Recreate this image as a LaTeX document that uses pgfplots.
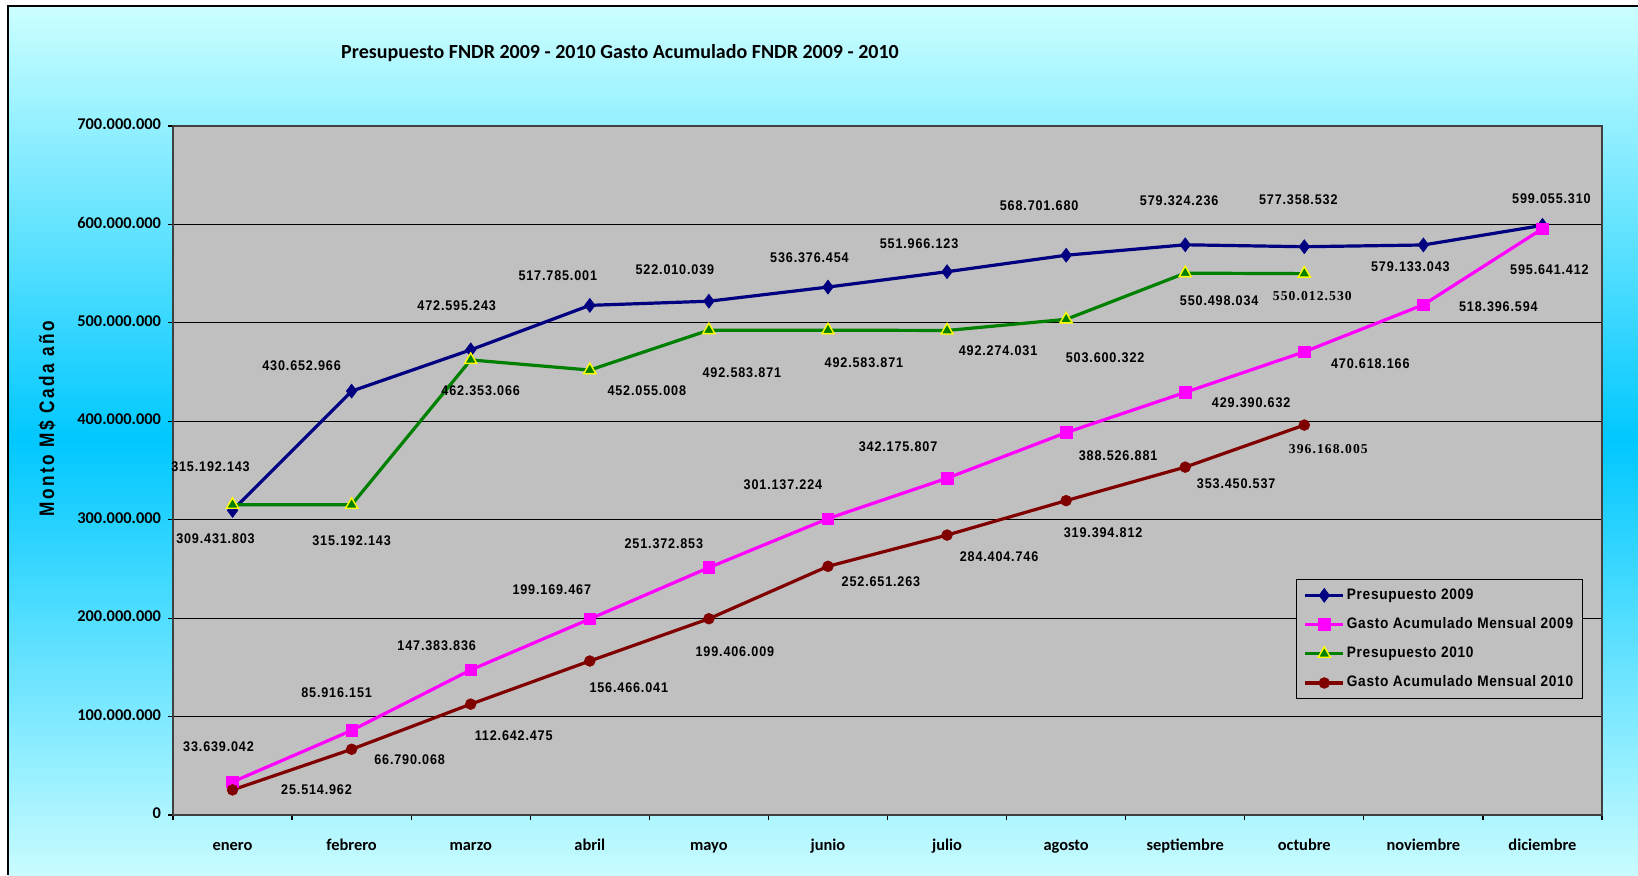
\documentclass[border=0pt]{standalone}
\usepackage{fontspec}
\usepackage{pgfplots}
\usepackage{pgfplotstable}
\pgfplotsset{compat=1.18}
\setmainfont{Liberation Sans}
\newfontfamily\calfont{Carlito}
\newfontfamily\lblfont[LetterSpace=6,FakeStretch=0.9]{Liberation Sans}
\newfontfamily\lblserif[LetterSpace=8]{Liberation Serif}
\newfontfamily\legfont[LetterSpace=4.5,FakeStretch=0.9]{Liberation Sans}
\newfontfamily\ylabfont[LetterSpace=12,FakeStretch=0.82]{Liberation Sans}
\definecolor{navyc}{HTML}{000080}
\definecolor{magc}{HTML}{FF00FF}
\definecolor{greenc}{HTML}{008000}
\definecolor{redc}{HTML}{800000}
\definecolor{yelc}{HTML}{FFFF00}
\definecolor{plotgray}{HTML}{C0C0C0}
\definecolor{bgl}{HTML}{CCFFFF}
\definecolor{bgm}{HTML}{00C8FF}
\definecolor{bgl2}{HTML}{C8FCFF}

\pgfplotstableread{
x p09 g09
0 309431803 33639042
1 430652966 85916151
2 472595243 147383836
3 517785001 199169467
4 522010039 251372853
5 536376454 301137224
6 551966123 342175807
7 568701680 388526881
8 579324236 429390632
9 577358532 470618166
10 579133043 518396594
11 599055310 595641412
}\tabA
\pgfplotstableread{
x p10 g10
0 315192143 25514962
1 315192143 66790068
2 462353066 112642475
3 452055008 156466041
4 492583871 199406009
5 492583871 252651263
6 492274031 284404746
7 503600322 319394812
8 550498034 353450537
9 550012530 396168005
}\tabB

\newcommand{\lbl}[5]{\node[font=\lblfont\bfseries\fontsize{7}{8}\selectfont, inner sep=0pt, xshift={0.5pt*(#3)}, yshift={-0.5pt*(#4)}] at (axis cs:#1,#2) {#5};}
\newcommand{\lbs}[5]{\node[font=\lblserif\bfseries\fontsize{6.8}{8}\selectfont, inner sep=0pt, xshift={0.5pt*(#3)}, yshift={-0.5pt*(#4)}] at (axis cs:#1,#2) {#5};}

\begin{document}
\begin{tikzpicture}
\fill[white] (0pt,0pt) rectangle (819pt,-437.5pt);
\shade[top color=bgl, bottom color=bgl2, middle color=bgm] (4pt,-3pt) rectangle (819pt,-437.5pt);
\draw[black, line width=0.7pt] (4pt,-437.5pt) -- (4pt,-3pt) -- (819pt,-3pt);
\node[font=\calfont\bfseries\fontsize{10}{12}\selectfont, inner sep=0pt] at (310pt,-26.5pt) {Presupuesto FNDR 2009 - 2010 Gasto Acumulado FNDR 2009 - 2010};
\node[font=\ylabfont\bfseries\fontsize{10.5}{12}\selectfont, inner sep=0pt, rotate=90] at (23.5pt,-209.5pt) {Monto M\$ Cada año};
\begin{axis}[
  at={(86.5pt,-63pt)}, anchor=north west,
  width=714.5pt, height=344.5pt, scale only axis,
  xmin=-0.5, xmax=11.5, ymin=0, ymax=700000000,
  xtick={-0.5,0.5,1.5,2.5,3.5,4.5,5.5,6.5,7.5,8.5,9.5,10.5,11.5},
  x tick label as interval,
  xticklabels={enero,febrero,marzo,abril,mayo,junio,julio,agosto,septiembre,octubre,noviembre,diciembre},
  ytick={0,100000000,200000000,300000000,400000000,500000000,600000000,700000000},
  yticklabels={0,100.000.000,200.000.000,300.000.000,400.000.000,500.000.000,600.000.000,700.000.000},
  scaled y ticks=false,
  tick align=outside, major tick length=2.5pt,
  xtick pos=bottom, ytick pos=left,
  tick style={black, line width=0.6pt},
  ymajorgrids, grid style={black, line width=0.5pt},
  axis line style={draw=black!75, line width=0.7pt},
  axis background/.style={fill=plotgray},
  ticklabel style={font=\calfont\bfseries\fontsize{8.2}{9}\selectfont},
  typeset ticklabels with strut,
  xticklabel style={yshift=-5.5pt},
  yticklabel style={xshift=0pt},
  clip=false,
  legend image code/.code={\draw[mark repeat=2,mark phase=2,#1] plot coordinates {(0pt,0pt) (9.5pt,0pt) (19pt,0pt)};},
  legend cell align=left,
  legend style={at={(rel axis cs:0.786,0.3425)}, anchor=north west, draw=black, fill=plotgray, line width=0.5pt,
    font=\legfont\bfseries\fontsize{7.6}{9}\selectfont, inner xsep=3.5pt, inner ysep=3.5pt, row sep=5.7pt,
    nodes={inner sep=1pt}},
]
\addplot[color=navyc, line width=1.6pt, mark=diamond*, mark size=3.5pt, mark options={solid, line width=0.3pt}] table[x=x, y=p09] {\tabA};
\addlegendentry{Presupuesto 2009}
\addplot[color=magc, line width=1.6pt, mark=square*, mark size=2.9pt, mark options={solid, line width=0.3pt}] table[x=x, y=g09] {\tabA};
\addlegendentry{Gasto Acumulado Mensual 2009}
\addplot[color=greenc, line width=1.6pt, mark=triangle*, mark size=3.5pt, mark options={solid, fill=greenc, draw=yelc, line width=0.7pt}] table[x=x, y=p10] {\tabB};
\addlegendentry{Presupuesto 2010}
\addplot[color=redc, line width=1.6pt, mark=*, mark size=2.7pt, mark options={solid, line width=0.3pt}] table[x=x, y=g10] {\tabB};
\addlegendentry{Gasto Acumulado Mensual 2010}
% Presupuesto 2009 labels
\lbl{0}{309431803}{-17}{28}{309.431.803}
\lbl{1}{430652966}{-50}{-25}{430.652.966}
\lbl{2}{472595243}{-14}{-44}{472.595.243}
\lbl{3}{517785001}{-32}{-30}{517.785.001}
\lbl{4}{522010039}{-34}{-32}{522.010.039}
\lbl{5}{536376454}{-18.5}{-29}{536.376.454}
\lbl{6}{551966123}{-28}{-28}{551.966.123}
\lbl{7}{568701680}{-27}{-50}{568.701.680}
\lbl{8}{579324236}{-6}{-44}{579.324.236}
\lbl{9}{577358532}{-6}{-47}{577.358.532}
\lbl{10}{579133043}{-13}{22}{579.133.043}
\lbl{11}{599055310}{9}{-27}{599.055.310}
% Gasto 2009 labels
\lbl{0}{33639042}{-14}{-35}{33.639.042}
\lbl{1}{85916151}{-15}{-38}{85.916.151}
\lbl{2}{147383836}{-34}{-24}{147.383.836}
\lbl{3}{199169467}{-38}{-29}{199.169.467}
\lbl{4}{251372853}{-45}{-24}{251.372.853}
\lbl{5}{301137224}{-45}{-34}{301.137.224}
\lbl{6}{342175807}{-49}{-32}{342.175.807}
\lbl{7}{388526881}{52}{23}{388.526.881}
\lbl{8}{429390632}{66}{10}{429.390.632}
\lbl{9}{470618166}{66}{12}{470.618.166}
\lbl{10}{518396594}{75}{2}{518.396.594}
\lbl{11}{595641412}{7}{41}{595.641.412}
% Presupuesto 2010 labels
\lbl{0}{315192143}{-22}{-38}{315.192.143}
\lbl{1}{315192143}{0}{36}{315.192.143}
\lbl{2}{462353066}{10}{31}{462.353.066}
\lbl{3}{452055008}{57}{21}{452.055.008}
\lbl{4}{492583871}{33}{43}{492.583.871}
\lbl{5}{492583871}{36}{33}{492.583.871}
\lbl{6}{492274031}{51}{20}{492.274.031}
\lbl{7}{503600322}{39}{38}{503.600.322}
\lbl{8}{550498034}{34}{28}{550.498.034}
\lbs{9}{550012530}{8}{22}{550.012.530}
% Gasto 2010 labels
\lbl{0}{25514962}{84}{0}{25.514.962}
\lbl{1}{66790068}{58}{10}{66.790.068}
\lbl{2}{112642475}{43}{32}{112.642.475}
\lbl{3}{156466041}{39}{27}{156.466.041}
\lbl{4}{199406009}{26}{33}{199.406.009}
\lbl{5}{252651263}{53}{15}{252.651.263}
\lbl{6}{284404746}{52}{22}{284.404.746}
\lbl{7}{319394812}{37}{32}{319.394.812}
\lbl{8}{353450537}{51}{17}{353.450.537}
\lbs{9}{396168005}{24}{24}{396.168.005}
\end{axis}
\pgfresetboundingbox
\useasboundingbox (0pt,0pt) rectangle (819pt,-437.5pt);
\end{tikzpicture}
\end{document}
